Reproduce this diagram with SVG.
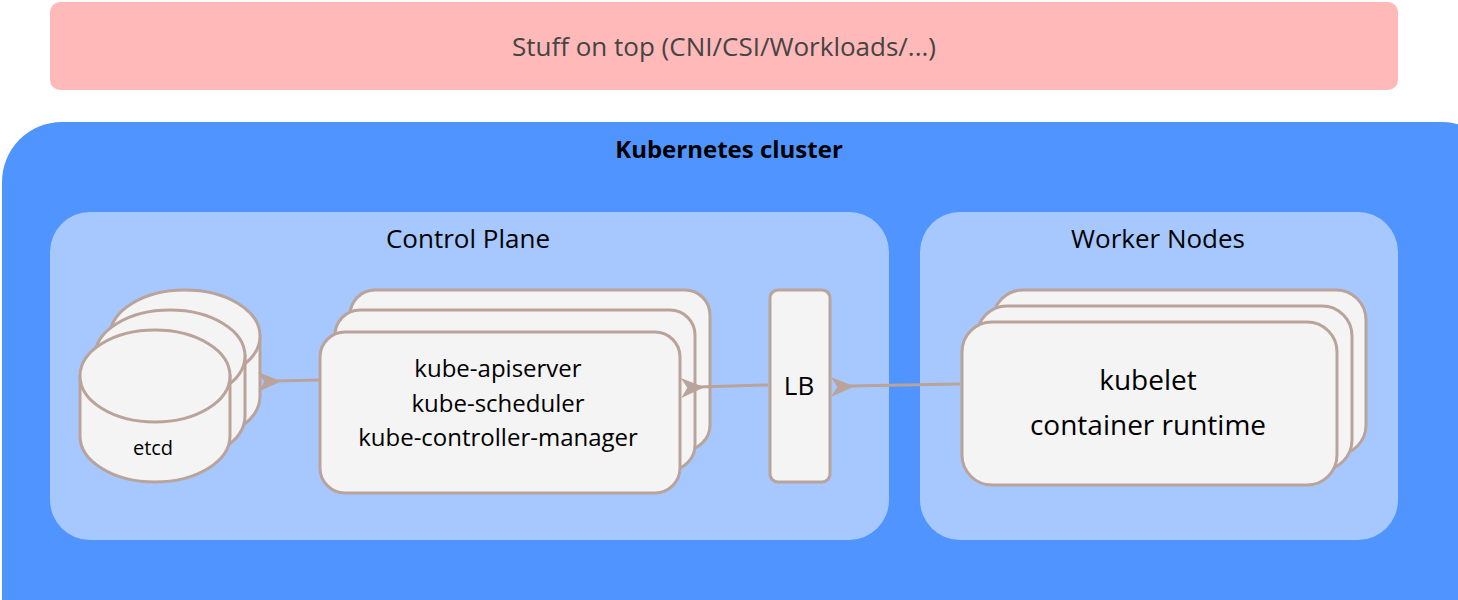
<svg xmlns="http://www.w3.org/2000/svg" width="1458" height="600" viewBox="0 0 1458 600">
<style>
text{font-family:"Open Sans","Noto Sans","DejaVu Sans",sans-serif;text-anchor:middle;fill:#000}
.b{fill:#f4f4f4;stroke:#b9a39b;stroke-width:3}
.c{stroke:#b9a39b;stroke-width:3;fill:none}
</style>
<defs>
<marker id="ah" markerWidth="12" markerHeight="10" refX="1" refY="5" orient="auto" markerUnits="userSpaceOnUse" viewBox="0 0 12 10" overflow="visible">
<path d="M-6,5 L20,-6 L13,5 L20,16 Z" fill="#b9a39b" transform="scale(0.9)"/>
</marker>
<g id="cyl">
<path class="b" d="M-75,0 V60 A75,46 0 0 0 75,60 V0 Z"/>
<ellipse class="b" cx="0" cy="0" rx="75" ry="46"/>
</g>
</defs>
<g id="top"><rect x="50" y="2" width="1348" height="88" rx="10" fill="#ffb9b9"/>
<text x="724" y="56" font-size="26" fill="#444" style="fill:#444">Stuff on top (CNI/CSI/Workloads/...)</text></g>
<g id="cluster"><rect x="2" y="122" width="1500" height="540" rx="60" fill="#4f94ff"/>
<text x="729" y="158" font-size="24" font-weight="bold">Kubernetes cluster</text></g>
<g id="control-plane"><rect x="50" y="212" width="839" height="328" rx="40" fill="#a6c8ff"/>
<text x="468" y="248" font-size="26">Control Plane</text></g>
<g id="worker-nodes"><rect x="920" y="212" width="478" height="328" rx="40" fill="#a6c8ff"/>
<text x="1158" y="248" font-size="26">Worker Nodes</text></g>
<g id="etcd">
<use href="#cyl" x="185" y="336"/>
<use href="#cyl" x="170" y="356"/>
<use href="#cyl" x="155" y="376"/>
<text x="153" y="455" font-size="20">etcd</text></g>
<g id="kube">
<rect class="b" x="350" y="290" width="360" height="160" rx="25"/>
<rect class="b" x="335" y="310" width="360" height="160" rx="25"/>
<rect class="b" x="320" y="332" width="360" height="161" rx="25"/>
<text x="498" y="377" font-size="24">kube-apiserver</text>
<text x="498" y="412" font-size="24">kube-scheduler</text>
<text x="498" y="446" font-size="24">kube-controller-manager</text></g>
<g id="lb"><rect class="b" x="770" y="290" width="60" height="192" rx="8"/>
<text x="799" y="395" font-size="26">LB</text></g>
<g id="worker">
<rect class="b" x="993" y="290" width="373" height="165" rx="30"/>
<rect class="b" x="977" y="306" width="375" height="164" rx="30"/>
<rect class="b" x="962" y="322" width="375" height="163" rx="30"/>
<text x="1148" y="390" font-size="28">kubelet</text>
<text x="1148" y="435" font-size="28">container runtime</text></g>
<g id="connectors">
<path class="c" d="M960,384 L848,386" marker-end="url(#ah)"/>
<path class="c" d="M768,385 L698,387" marker-end="url(#ah)"/>
<path class="c" d="M320,380 L275,381" marker-end="url(#ah)"/>
</g>
</svg>
